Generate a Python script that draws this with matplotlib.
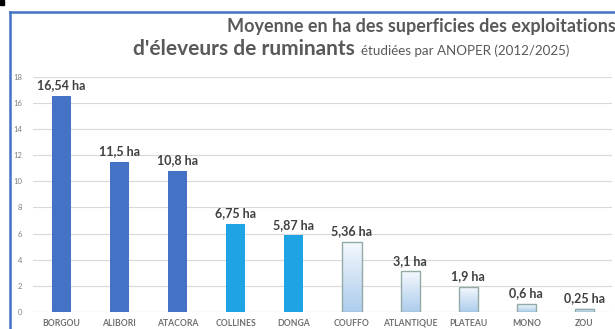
import matplotlib.pyplot as plt
import numpy as np
from matplotlib.colors import LinearSegmentedColormap
from matplotlib.lines import Line2D
from matplotlib.patches import Rectangle

departements = ["BORGOU", "ALIBORI", "ATACORA", "COLLINES", "DONGA",
                "COUFFO", "ATLANTIQUE", "PLATEAU", "MONO", "ZOU"]
superficies = [16.54, 11.5, 10.8, 6.75, 5.87, 5.36, 3.1, 1.9, 0.6, 0.25]
etiquettes = ["16,54 ha", "11,5 ha", "10,8 ha", "6,75 ha", "5,87 ha",
              "5,36 ha", "3,1 ha", "1,9 ha", "0,6 ha", "0,25 ha"]
# groupe de couleur : 0 = bleu fonce, 1 = bleu clair, 2 = degrade
groupes = [0, 0, 0, 1, 1, 2, 2, 2, 2, 2]

plt.rcParams["font.family"] = ["Lato", "DejaVu Sans"]

fig = plt.figure(figsize=(6.15, 3.29), dpi=100)
ax = fig.add_axes([0.054, 0.052, 0.941, 0.714])

x = np.arange(len(departements))
couleurs = {0: "#4472C4", 1: "#1EA3E4", 2: "none"}
bords = {0: "none", 1: "none", 2: "#93ABA8"}
bars = ax.bar(x, superficies, width=0.33,
              color=[couleurs[g] for g in groupes],
              edgecolor=[bords[g] for g in groupes], linewidth=1.0, zorder=3)

# remplissage en degrade (blanc en haut, bleu pale en bas)
grad = np.linspace(0, 1, 100).reshape(-1, 1)
cmap = LinearSegmentedColormap.from_list("deg", ["#F4F8FD", "#ADCDED"])
for b, g in zip(bars, groupes):
    if g != 2:
        continue
    x0, w, h = b.get_x(), b.get_width(), b.get_height()
    ax.imshow(grad, extent=(x0, x0 + w, 0, h), origin="upper", cmap=cmap,
              aspect="auto", zorder=2)

for xi, v, lab in zip(x, superficies, etiquettes):
    ax.text(xi, v + 0.35, lab, ha="center", va="bottom", fontsize=9,
            fontweight="bold", color="#404040", zorder=4)

ax.set_xlim(-0.48, 9.47)
ax.set_ylim(0, 18)
ax.set_yticks(range(0, 19, 2))
ax.set_xticks(x)
ax.set_xticklabels(departements, fontsize=6.2, fontweight="bold",
                   color="#6F6F6F")
ax.tick_params(axis="y", labelsize=5.5, colors="#7F7F7F", length=0, pad=8)
ax.tick_params(axis="x", length=0, pad=5)
ax.grid(axis="y", color="#D9D9D9", linewidth=0.8, zorder=0)
for s in ax.spines.values():
    s.set_visible(False)
ax.axhline(0, color="#D9D9D9", linewidth=0.8, zorder=1)

# titre sur deux lignes
fig.text(0.686, 0.918, "Moyenne en ha des superficies des exploitations",
         ha="center", va="center", fontsize=13, fontweight="bold",
         color="#595959")
t = fig.text(0.216, 0.852, "d'éleveurs de ruminants", ha="left",
             va="center", fontsize=15, fontweight="bold", color="#595959")
fig.canvas.draw()
bb = t.get_window_extent().transformed(fig.transFigure.inverted())
fig.text(bb.x1 + 0.01, 0.845, "étudiées par ANOPER (2012/2025)", ha="left",
         va="center", fontsize=9.6, color="#595959")

# cadre bleu
fig.add_artist(Line2D([0.016, 0.016], [0.0, 0.963], color="#4472C4",
                      linewidth=1.8, transform=fig.transFigure))
fig.add_artist(Line2D([0.016, 1.0], [0.963, 0.963], color="#4472C4",
                      linewidth=1.8, transform=fig.transFigure))
fig.add_artist(Rectangle((0.0, 0.985), 0.007, 0.015, color="black",
                         transform=fig.transFigure))

fig.savefig("out.png", dpi=100)
